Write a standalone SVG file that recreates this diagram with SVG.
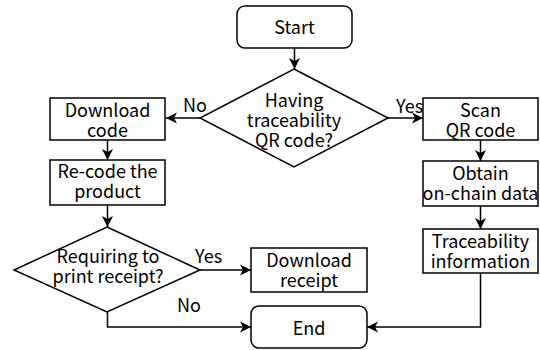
<svg xmlns="http://www.w3.org/2000/svg" width="540" height="350" viewBox="0 0 540 350">
<style>
.b{fill:#fff;stroke:#000;stroke-width:1.5}
.l{fill:none;stroke:#000;stroke-width:1.5}
text{font-family:"Noto Sans CJK SC","Noto Sans",sans-serif;font-size:18px;fill:#000;text-anchor:middle}
.s{text-anchor:start}
</style>
<defs>
<marker id="a" markerUnits="userSpaceOnUse" markerWidth="12" markerHeight="12" viewBox="0 0 12 12" refX="11" refY="6" orient="auto">
<path d="M0,0.5 L11,6 L0,11.5 L3,6 z" fill="#000"/>
</marker>
</defs>
<rect width="540" height="350" fill="#fff"/>
<g id="connectors">
<line class="l" x1="294.5" y1="48" x2="294.5" y2="69" marker-end="url(#a)"/>
<line class="l" x1="200" y1="118" x2="166" y2="118" marker-end="url(#a)"/>
<line class="l" x1="388" y1="118" x2="423" y2="118" marker-end="url(#a)"/>
<line class="l" x1="107.5" y1="140" x2="107.5" y2="160" marker-end="url(#a)"/>
<line class="l" x1="107.5" y1="205" x2="107.5" y2="227" marker-end="url(#a)"/>
<line class="l" x1="480.5" y1="140" x2="480.5" y2="161" marker-end="url(#a)"/>
<line class="l" x1="480.5" y1="206" x2="480.5" y2="229" marker-end="url(#a)"/>
<line class="l" x1="200" y1="270" x2="251" y2="270" marker-end="url(#a)"/>
<polyline class="l" points="107.5,312 107.5,327 251,327" marker-end="url(#a)"/>
<polyline class="l" points="480.5,273 480.5,327 367,327" marker-end="url(#a)"/>
<text class="s" x="183" y="112">No</text>
<text class="s" x="396" y="113">Yes</text>
<text class="s" x="195" y="263">Yes</text>
<text class="s" x="177" y="312">No</text>
</g>
<g id="start">
<rect class="b" x="237" y="6" width="115" height="42" rx="8"/>
<text x="294.5" y="34">Start</text>
</g>
<g id="decision-qr">
<polygon class="b" points="294,69 388,118 294,167 200,118"/>
<text x="294" y="107">Having</text>
<text x="294" y="127">traceability</text>
<text x="294" y="147">QR code?</text>
</g>
<g id="download-code">
<rect class="b" x="50" y="98" width="115" height="42"/>
<text x="107.5" y="117">Download</text>
<text x="107.5" y="137">code</text>
</g>
<g id="scan-qr">
<rect class="b" x="423" y="98" width="115" height="42"/>
<text x="480.5" y="117">Scan</text>
<text x="480.5" y="137">QR code</text>
</g>
<g id="recode">
<rect class="b" x="50" y="160" width="115" height="45"/>
<text x="107.5" y="178">Re-code the</text>
<text x="107.5" y="198">product</text>
</g>
<g id="obtain">
<rect class="b" x="423" y="161" width="115" height="45"/>
<text x="480.5" y="180">Obtain</text>
<text x="480.5" y="200">on-chain data</text>
</g>
<g id="traceability-info">
<rect class="b" x="423" y="229" width="115" height="44"/>
<text x="480.5" y="248">Traceability</text>
<text x="480.5" y="268">information</text>
</g>
<g id="decision-receipt">
<polygon class="b" points="107,227 200,270 107,312 14,270"/>
<text x="108" y="263">Requiring to</text>
<text x="108" y="283">print receipt?</text>
</g>
<g id="download-receipt">
<rect class="b" x="251" y="248" width="116" height="44"/>
<text x="309" y="267">Download</text>
<text x="309" y="287">receipt</text>
</g>
<g id="end">
<rect class="b" x="251" y="306" width="116" height="42" rx="8"/>
<text x="309" y="335">End</text>
</g>
</svg>
